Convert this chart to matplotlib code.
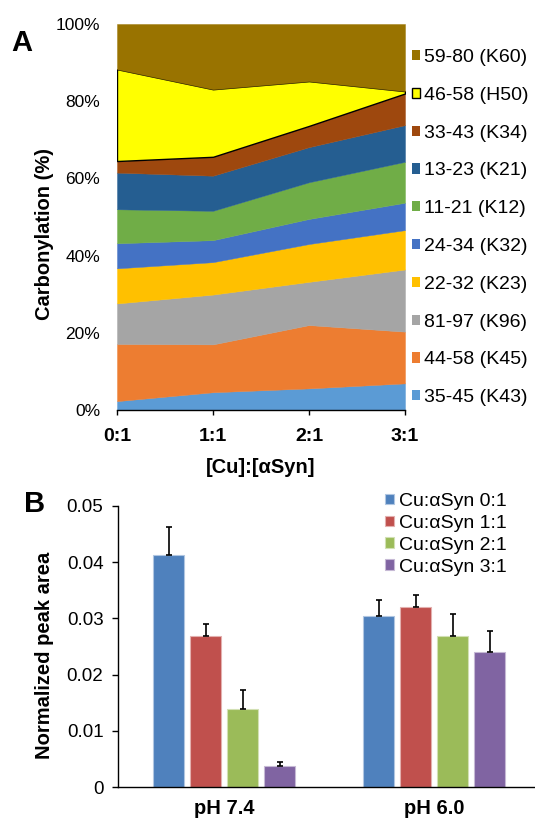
import numpy as np
import matplotlib
matplotlib.use('Agg')
import matplotlib.pyplot as plt
from matplotlib.patches import Patch

plt.rcParams['font.family'] = ['Liberation Sans', 'DejaVu Sans']

# panel A data: share of carbonylation per peptide (%), per Cu:aSyn ratio
ratios = ['0:1', '1:1', '2:1', '3:1']
peptides = ['35-45 (K43)', '44-58 (K45)', '81-97 (K96)', '22-32 (K23)', '24-34 (K32)',
            '11-21 (K12)', '13-23 (K21)', '33-43 (K34)', '46-58 (H50)', '59-80 (K60)']
k43 = [2.3, 4.6, 5.6, 6.9]
k45 = [14.8, 12.4, 16.4, 13.4]
k96 = [10.5, 12.9, 11.2, 16.1]
k23 = [9.1, 8.4, 9.8, 10.2]
k32 = [6.5, 5.7, 6.5, 7.1]
k12 = [8.8, 7.6, 9.5, 10.6]
k21 = [9.5, 9.1, 9.1, 9.5]
k34 = [3.0, 4.9, 5.5, 8.2]
h50 = [23.8, 17.5, 11.6, 0.6]
k60 = [11.7, 16.9, 14.8, 17.4]
pep_colors = ['#5B9BD5', '#ED7D31', '#A5A5A5', '#FFC000', '#4472C4',
              '#70AD47', '#255E91', '#9E480E', '#FFFF00', '#997300']
pct_ticks = [0, 20, 40, 60, 80, 100]

# panel B data: normalized peak area
conditions = ['pH 7.4', 'pH 6.0']
series = ['Cu:\u03b1Syn 0:1', 'Cu:\u03b1Syn 1:1', 'Cu:\u03b1Syn 2:1', 'Cu:\u03b1Syn 3:1']
area_mean = [[0.0413, 0.0304],
             [0.0268, 0.0321],
             [0.0138, 0.0268],
             [0.0037, 0.0240]]
area_err = [[0.0050, 0.0029],
            [0.0022, 0.0021],
            [0.0034, 0.0039],
            [0.0008, 0.0037]]
bar_colors = ['#4F81BD', '#C0504D', '#9BBB59', '#8064A2']
area_ticks = [0, 0.01, 0.02, 0.03, 0.04, 0.05]

W, H = 535, 823
fig = plt.figure(figsize=(W / 100, H / 100), dpi=100)

def px_axes(l, t, r, b):
    return fig.add_axes([l / W, 1 - b / H, (r - l) / W, (b - t) / H])

# ---------------- panel A ----------------
ax = px_axes(117, 24, 405, 410)
x = np.arange(len(ratios))
layers = [k43, k45, k96, k23, k32, k12, k21, k34, h50, k60]
polys = ax.stackplot(x, *layers, colors=pep_colors, labels=peptides)
for p, c in zip(polys, pep_colors):
    p.set_edgecolor(c)
    p.set_linewidth(0.3)
polys[8].set_edgecolor('black')
polys[8].set_linewidth(1.0)

ax.set_xlim(0, 3)
ax.set_ylim(0, 100)
ax.set_xticks(x)
ax.set_xticklabels(ratios, fontsize=14, fontweight='bold')
ax.set_yticks(pct_ticks)
ax.set_yticklabels([f'{v}%' for v in pct_ticks], fontsize=12.5)
ax.tick_params(axis='y', length=0, pad=12)
ax.tick_params(axis='x', length=3.6, width=1, direction='out', pad=9)
for s in ['left', 'top', 'right']:
    ax.spines[s].set_visible(False)
ax.spines['bottom'].set_linewidth(1)
ax.set_xlabel('[Cu]:[\u03b1Syn]', fontsize=14.5, fontweight='bold', labelpad=10)
fig.text(45 / W, 1 - 234 / H, 'Carbonylation (%)', rotation=90, ha='center', va='center',
         fontsize=14.5, fontweight='bold')
fig.text(22 / W, 1 - 43 / H, 'A', ha='center', va='center', fontsize=21, fontweight='bold')

handles = []
for lab, c in zip(peptides, pep_colors):
    ec = 'black' if c == '#FFFF00' else c
    handles.append(Patch(facecolor=c, edgecolor=ec, linewidth=1.0 if ec == 'black' else 0, label=lab))
ax.legend(handles[::-1], peptides[::-1], loc='upper left', bbox_to_anchor=(412 / W, 1 - 49 / H),
          bbox_transform=fig.transFigure, frameon=False, fontsize=14, borderpad=0,
          borderaxespad=0, handlelength=0.42, handleheight=0.42, handletextpad=0.22,
          labelspacing=1.07)

# ---------------- panel B ----------------
bx = px_axes(118, 506, 535, 787)
xc = np.arange(len(conditions))
bw = 0.148
step = 0.176
for i, (lab, c) in enumerate(zip(series, bar_colors)):
    off = (i - 1.5) * step
    light = tuple(0.45 * np.array(matplotlib.colors.to_rgb(c)) + 0.55)
    bx.bar(xc + off, area_mean[i], width=bw, color=c, edgecolor=light, linewidth=0.8, label=lab)
    bx.errorbar(xc + off, area_mean[i], yerr=[np.zeros(len(conditions)), area_err[i]], fmt='none',
                ecolor='black', elinewidth=1.2, capsize=2.2, capthick=1.2)

bx.set_xlim(-0.506, 1.48)
bx.set_ylim(0, 0.05)
bx.set_xticks(xc)
bx.set_xticklabels(conditions, fontsize=14.5, fontweight='bold')
bx.tick_params(axis='x', length=0, pad=9)
bx.set_yticks(area_ticks)
bx.set_yticklabels(['0' if v == 0 else f'{v:.2f}' for v in area_ticks], fontsize=13.5)
bx.tick_params(axis='y', length=4, width=1, direction='out', pad=6.5)
for s in ['top', 'right']:
    bx.spines[s].set_visible(False)
bx.spines['left'].set_linewidth(1)
bx.spines['bottom'].set_linewidth(1)
fig.text(44.5 / W, 1 - 655 / H, 'Normalized peak area', rotation=90, ha='center', va='center',
         fontsize=14.5, fontweight='bold')
fig.text(34.5 / W, 1 - 504 / H, 'B', ha='center', va='center', fontsize=21, fontweight='bold')
bx.legend(loc='upper left', bbox_to_anchor=(385 / W, 1 - 493 / H), bbox_transform=fig.transFigure,
          frameon=False, fontsize=14, borderpad=0, borderaxespad=0, handlelength=0.47,
          handleheight=0.47, handletextpad=0.26, labelspacing=0.25)

fig.savefig('out.png', dpi=100)
